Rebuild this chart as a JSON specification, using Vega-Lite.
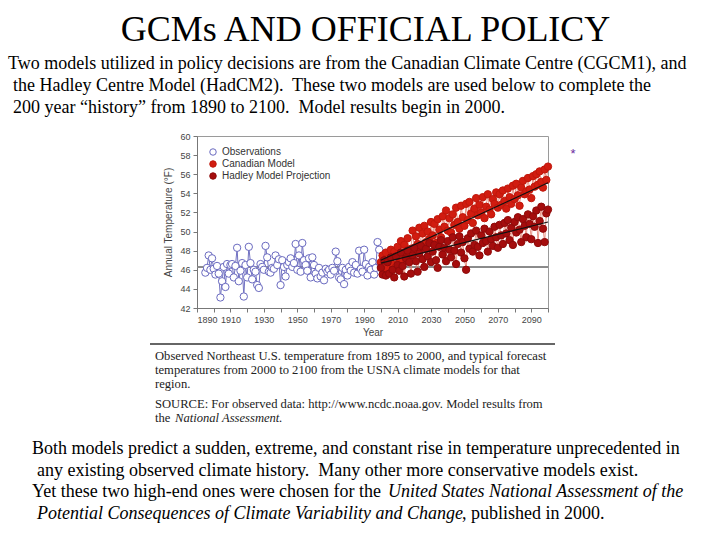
{
  "$schema": "https://vega.github.io/schema/vega-lite/v6.json",
  "background": "white",
  "padding": {"left": 8, "top": 12, "right": 0, "bottom": 0},
  "autosize": {"type": "pad"},
  "bounds": "flush",
  "spacing": 0,
  "title": {"text": "GCMs AND OFFICIAL POLICY", "font": "Liberation Serif", "fontSize": 36, "fontWeight": "normal", "color": "#000000", "anchor": "middle", "frame": "group", "offset": 3, "dx": -7},
  "config": {"view": {"stroke": null}},
  "resolve": {"legend": {"fill": "independent", "stroke": "independent"}},
  "datasets": {
    "temps": [
      {"series":"Observations","year":1895,"temp":45.7},{"series":"Observations","year":1896,"temp":46.2},{"series":"Observations","year":1897,"temp":47.5},{"series":"Observations","year":1898,"temp":46.0},{"series":"Observations","year":1899,"temp":47.2},
      {"series":"Observations","year":1900,"temp":46.1},{"series":"Observations","year":1901,"temp":45.5},{"series":"Observations","year":1902,"temp":46.4},{"series":"Observations","year":1903,"temp":45.6},{"series":"Observations","year":1904,"temp":43.1},
      {"series":"Observations","year":1905,"temp":44.8},{"series":"Observations","year":1906,"temp":46.3},{"series":"Observations","year":1907,"temp":44.2},{"series":"Observations","year":1908,"temp":46.6},{"series":"Observations","year":1909,"temp":45.6},
      {"series":"Observations","year":1910,"temp":46.5},{"series":"Observations","year":1911,"temp":46.6},{"series":"Observations","year":1912,"temp":45.2},{"series":"Observations","year":1913,"temp":46.4},{"series":"Observations","year":1914,"temp":48.3},
      {"series":"Observations","year":1915,"temp":44.8},{"series":"Observations","year":1916,"temp":45.9},{"series":"Observations","year":1917,"temp":46.7},{"series":"Observations","year":1918,"temp":43.2},{"series":"Observations","year":1919,"temp":46.5},
      {"series":"Observations","year":1920,"temp":45.2},{"series":"Observations","year":1921,"temp":48.4},{"series":"Observations","year":1922,"temp":46.7},{"series":"Observations","year":1923,"temp":45.0},{"series":"Observations","year":1924,"temp":46.0},
      {"series":"Observations","year":1925,"temp":45.8},{"series":"Observations","year":1926,"temp":44.4},{"series":"Observations","year":1927,"temp":44.1},{"series":"Observations","year":1928,"temp":46.6},{"series":"Observations","year":1929,"temp":46.3},
      {"series":"Observations","year":1930,"temp":46.0},{"series":"Observations","year":1931,"temp":48.5},{"series":"Observations","year":1932,"temp":47.3},{"series":"Observations","year":1933,"temp":45.8},{"series":"Observations","year":1934,"temp":45.7},
      {"series":"Observations","year":1935,"temp":46.2},{"series":"Observations","year":1936,"temp":46.1},{"series":"Observations","year":1937,"temp":47.5},{"series":"Observations","year":1938,"temp":46.5},{"series":"Observations","year":1939,"temp":47.1},
      {"series":"Observations","year":1940,"temp":44.4},{"series":"Observations","year":1941,"temp":47.0},{"series":"Observations","year":1942,"temp":46.3},{"series":"Observations","year":1943,"temp":45.3},{"series":"Observations","year":1944,"temp":46.5},
      {"series":"Observations","year":1945,"temp":46.8},{"series":"Observations","year":1946,"temp":47.2},{"series":"Observations","year":1947,"temp":46.3},{"series":"Observations","year":1948,"temp":46.7},{"series":"Observations","year":1949,"temp":48.7},
      {"series":"Observations","year":1950,"temp":46.0},{"series":"Observations","year":1951,"temp":47.5},{"series":"Observations","year":1952,"temp":45.8},{"series":"Observations","year":1953,"temp":48.8},{"series":"Observations","year":1954,"temp":47.0},
      {"series":"Observations","year":1955,"temp":46.5},{"series":"Observations","year":1956,"temp":45.9},{"series":"Observations","year":1957,"temp":47.2},{"series":"Observations","year":1958,"temp":45.2},{"series":"Observations","year":1959,"temp":47.3},
      {"series":"Observations","year":1960,"temp":46.5},{"series":"Observations","year":1961,"temp":45.6},{"series":"Observations","year":1962,"temp":45.1},{"series":"Observations","year":1963,"temp":46.2},{"series":"Observations","year":1964,"temp":45.3},
      {"series":"Observations","year":1965,"temp":45.7},{"series":"Observations","year":1966,"temp":44.9},{"series":"Observations","year":1967,"temp":46.1},{"series":"Observations","year":1968,"temp":45.8},{"series":"Observations","year":1969,"temp":46.0},
      {"series":"Observations","year":1970,"temp":45.5},{"series":"Observations","year":1971,"temp":46.2},{"series":"Observations","year":1972,"temp":45.9},{"series":"Observations","year":1973,"temp":47.9},{"series":"Observations","year":1974,"temp":46.9},
      {"series":"Observations","year":1975,"temp":45.2},{"series":"Observations","year":1976,"temp":45.0},{"series":"Observations","year":1977,"temp":46.2},{"series":"Observations","year":1978,"temp":44.5},{"series":"Observations","year":1979,"temp":46.0},
      {"series":"Observations","year":1980,"temp":45.4},{"series":"Observations","year":1981,"temp":46.3},{"series":"Observations","year":1982,"temp":45.9},{"series":"Observations","year":1983,"temp":46.8},{"series":"Observations","year":1984,"temp":45.7},
      {"series":"Observations","year":1985,"temp":46.5},{"series":"Observations","year":1986,"temp":45.6},{"series":"Observations","year":1987,"temp":48.0},{"series":"Observations","year":1988,"temp":46.1},{"series":"Observations","year":1989,"temp":45.8},
      {"series":"Observations","year":1990,"temp":48.1},{"series":"Observations","year":1991,"temp":46.6},{"series":"Observations","year":1992,"temp":45.4},{"series":"Observations","year":1993,"temp":46.3},{"series":"Observations","year":1994,"temp":46.0},
      {"series":"Observations","year":1995,"temp":46.8},{"series":"Observations","year":1996,"temp":45.5},{"series":"Observations","year":1997,"temp":46.2},{"series":"Observations","year":1998,"temp":48.9},{"series":"Observations","year":1999,"temp":48.1},
      {"series":"Observations","year":2000,"temp":46.4},
      {"series":"Canadian Model","year":2000,"temp":46.8},{"series":"Canadian Model","year":2001,"temp":47.5},{"series":"Canadian Model","year":2002,"temp":45.9},{"series":"Canadian Model","year":2003,"temp":47.8},{"series":"Canadian Model","year":2004,"temp":46.2},
      {"series":"Canadian Model","year":2005,"temp":47.0},{"series":"Canadian Model","year":2006,"temp":48.1},{"series":"Canadian Model","year":2007,"temp":46.6},{"series":"Canadian Model","year":2008,"temp":47.9},{"series":"Canadian Model","year":2009,"temp":46.3},
      {"series":"Canadian Model","year":2010,"temp":48.4},{"series":"Canadian Model","year":2011,"temp":47.2},{"series":"Canadian Model","year":2012,"temp":49.0},{"series":"Canadian Model","year":2013,"temp":46.9},{"series":"Canadian Model","year":2014,"temp":48.6},
      {"series":"Canadian Model","year":2015,"temp":47.5},{"series":"Canadian Model","year":2016,"temp":49.3},{"series":"Canadian Model","year":2017,"temp":47.8},{"series":"Canadian Model","year":2018,"temp":48.2},{"series":"Canadian Model","year":2019,"temp":50.1},
      {"series":"Canadian Model","year":2020,"temp":48.0},{"series":"Canadian Model","year":2021,"temp":49.5},{"series":"Canadian Model","year":2022,"temp":48.7},{"series":"Canadian Model","year":2023,"temp":50.4},{"series":"Canadian Model","year":2024,"temp":48.3},
      {"series":"Canadian Model","year":2025,"temp":49.8},{"series":"Canadian Model","year":2026,"temp":50.6},{"series":"Canadian Model","year":2027,"temp":48.9},{"series":"Canadian Model","year":2028,"temp":50.0},{"series":"Canadian Model","year":2029,"temp":49.2},
      {"series":"Canadian Model","year":2030,"temp":51.0},{"series":"Canadian Model","year":2031,"temp":49.6},{"series":"Canadian Model","year":2032,"temp":50.8},{"series":"Canadian Model","year":2033,"temp":48.8},{"series":"Canadian Model","year":2034,"temp":51.3},
      {"series":"Canadian Model","year":2035,"temp":50.2},{"series":"Canadian Model","year":2036,"temp":49.4},{"series":"Canadian Model","year":2037,"temp":51.6},{"series":"Canadian Model","year":2038,"temp":50.5},{"series":"Canadian Model","year":2039,"temp":52.2},
      {"series":"Canadian Model","year":2040,"temp":50.1},{"series":"Canadian Model","year":2041,"temp":51.4},{"series":"Canadian Model","year":2042,"temp":49.9},{"series":"Canadian Model","year":2043,"temp":51.8},{"series":"Canadian Model","year":2044,"temp":50.7},
      {"series":"Canadian Model","year":2045,"temp":52.5},{"series":"Canadian Model","year":2046,"temp":51.0},{"series":"Canadian Model","year":2047,"temp":50.3},{"series":"Canadian Model","year":2048,"temp":52.7},{"series":"Canadian Model","year":2049,"temp":51.5},
      {"series":"Canadian Model","year":2050,"temp":50.6},{"series":"Canadian Model","year":2051,"temp":52.9},{"series":"Canadian Model","year":2052,"temp":51.2},{"series":"Canadian Model","year":2053,"temp":53.1},{"series":"Canadian Model","year":2054,"temp":51.9},
      {"series":"Canadian Model","year":2055,"temp":50.9},{"series":"Canadian Model","year":2056,"temp":52.4},{"series":"Canadian Model","year":2057,"temp":53.5},{"series":"Canadian Model","year":2058,"temp":51.7},{"series":"Canadian Model","year":2059,"temp":52.8},
      {"series":"Canadian Model","year":2060,"temp":52.0},{"series":"Canadian Model","year":2061,"temp":53.6},{"series":"Canadian Model","year":2062,"temp":51.4},{"series":"Canadian Model","year":2063,"temp":52.6},{"series":"Canadian Model","year":2064,"temp":53.9},
      {"series":"Canadian Model","year":2065,"temp":52.3},{"series":"Canadian Model","year":2066,"temp":51.8},{"series":"Canadian Model","year":2067,"temp":53.4},{"series":"Canadian Model","year":2068,"temp":52.9},{"series":"Canadian Model","year":2069,"temp":54.1},
      {"series":"Canadian Model","year":2070,"temp":52.5},{"series":"Canadian Model","year":2071,"temp":53.9},{"series":"Canadian Model","year":2072,"temp":52.8},{"series":"Canadian Model","year":2073,"temp":54.3},{"series":"Canadian Model","year":2074,"temp":53.2},
      {"series":"Canadian Model","year":2075,"temp":52.4},{"series":"Canadian Model","year":2076,"temp":54.5},{"series":"Canadian Model","year":2077,"temp":53.6},{"series":"Canadian Model","year":2078,"temp":52.9},{"series":"Canadian Model","year":2079,"temp":54.8},
      {"series":"Canadian Model","year":2080,"temp":53.4},{"series":"Canadian Model","year":2081,"temp":55.0},{"series":"Canadian Model","year":2082,"temp":53.8},{"series":"Canadian Model","year":2083,"temp":52.7},{"series":"Canadian Model","year":2084,"temp":54.6},
      {"series":"Canadian Model","year":2085,"temp":55.3},{"series":"Canadian Model","year":2086,"temp":53.9},{"series":"Canadian Model","year":2087,"temp":54.2},{"series":"Canadian Model","year":2088,"temp":55.6},{"series":"Canadian Model","year":2089,"temp":54.4},
      {"series":"Canadian Model","year":2090,"temp":53.5},{"series":"Canadian Model","year":2091,"temp":55.8},{"series":"Canadian Model","year":2092,"temp":54.7},{"series":"Canadian Model","year":2093,"temp":56.0},{"series":"Canadian Model","year":2094,"temp":54.9},
      {"series":"Canadian Model","year":2095,"temp":56.3},{"series":"Canadian Model","year":2096,"temp":55.2},{"series":"Canadian Model","year":2097,"temp":54.6},{"series":"Canadian Model","year":2098,"temp":56.5},{"series":"Canadian Model","year":2099,"temp":55.4},
      {"series":"Canadian Model","year":2100,"temp":56.8},
      {"series":"Hadley Model Projection","year":2000,"temp":46.2},{"series":"Hadley Model Projection","year":2001,"temp":45.5},{"series":"Hadley Model Projection","year":2002,"temp":47.0},{"series":"Hadley Model Projection","year":2003,"temp":45.4},{"series":"Hadley Model Projection","year":2004,"temp":46.8},
      {"series":"Hadley Model Projection","year":2005,"temp":45.6},{"series":"Hadley Model Projection","year":2006,"temp":47.3},{"series":"Hadley Model Projection","year":2007,"temp":46.0},{"series":"Hadley Model Projection","year":2008,"temp":45.2},{"series":"Hadley Model Projection","year":2009,"temp":47.4},
      {"series":"Hadley Model Projection","year":2010,"temp":46.5},{"series":"Hadley Model Projection","year":2011,"temp":45.9},{"series":"Hadley Model Projection","year":2012,"temp":47.8},{"series":"Hadley Model Projection","year":2013,"temp":46.4},{"series":"Hadley Model Projection","year":2014,"temp":45.3},
      {"series":"Hadley Model Projection","year":2015,"temp":47.2},{"series":"Hadley Model Projection","year":2016,"temp":48.0},{"series":"Hadley Model Projection","year":2017,"temp":46.8},{"series":"Hadley Model Projection","year":2018,"temp":45.6},{"series":"Hadley Model Projection","year":2019,"temp":47.5},
      {"series":"Hadley Model Projection","year":2020,"temp":48.3},{"series":"Hadley Model Projection","year":2021,"temp":46.9},{"series":"Hadley Model Projection","year":2022,"temp":45.8},{"series":"Hadley Model Projection","year":2023,"temp":47.7},{"series":"Hadley Model Projection","year":2024,"temp":48.5},
      {"series":"Hadley Model Projection","year":2025,"temp":47.1},{"series":"Hadley Model Projection","year":2026,"temp":46.3},{"series":"Hadley Model Projection","year":2027,"temp":48.2},{"series":"Hadley Model Projection","year":2028,"temp":47.4},{"series":"Hadley Model Projection","year":2029,"temp":48.8},
      {"series":"Hadley Model Projection","year":2030,"temp":46.8},{"series":"Hadley Model Projection","year":2031,"temp":47.9},{"series":"Hadley Model Projection","year":2032,"temp":48.6},{"series":"Hadley Model Projection","year":2033,"temp":47.0},{"series":"Hadley Model Projection","year":2034,"temp":46.2},
      {"series":"Hadley Model Projection","year":2035,"temp":48.4},{"series":"Hadley Model Projection","year":2036,"temp":49.1},{"series":"Hadley Model Projection","year":2037,"temp":47.6},{"series":"Hadley Model Projection","year":2038,"temp":48.3},{"series":"Hadley Model Projection","year":2039,"temp":46.9},
      {"series":"Hadley Model Projection","year":2040,"temp":49.0},{"series":"Hadley Model Projection","year":2041,"temp":48.1},{"series":"Hadley Model Projection","year":2042,"temp":47.3},{"series":"Hadley Model Projection","year":2043,"temp":49.4},{"series":"Hadley Model Projection","year":2044,"temp":48.0},
      {"series":"Hadley Model Projection","year":2045,"temp":46.6},{"series":"Hadley Model Projection","year":2046,"temp":48.7},{"series":"Hadley Model Projection","year":2047,"temp":49.5},{"series":"Hadley Model Projection","year":2048,"temp":47.8},{"series":"Hadley Model Projection","year":2049,"temp":48.9},
      {"series":"Hadley Model Projection","year":2050,"temp":47.2},{"series":"Hadley Model Projection","year":2051,"temp":46.0},{"series":"Hadley Model Projection","year":2052,"temp":49.3},{"series":"Hadley Model Projection","year":2053,"temp":48.2},{"series":"Hadley Model Projection","year":2054,"temp":49.8},
      {"series":"Hadley Model Projection","year":2055,"temp":47.9},{"series":"Hadley Model Projection","year":2056,"temp":48.6},{"series":"Hadley Model Projection","year":2057,"temp":50.1},{"series":"Hadley Model Projection","year":2058,"temp":48.4},{"series":"Hadley Model Projection","year":2059,"temp":47.5},
      {"series":"Hadley Model Projection","year":2060,"temp":49.6},{"series":"Hadley Model Projection","year":2061,"temp":48.8},{"series":"Hadley Model Projection","year":2062,"temp":50.3},{"series":"Hadley Model Projection","year":2063,"temp":49.0},{"series":"Hadley Model Projection","year":2064,"temp":47.9},
      {"series":"Hadley Model Projection","year":2065,"temp":50.0},{"series":"Hadley Model Projection","year":2066,"temp":49.2},{"series":"Hadley Model Projection","year":2067,"temp":48.5},{"series":"Hadley Model Projection","year":2068,"temp":50.5},{"series":"Hadley Model Projection","year":2069,"temp":49.4},
      {"series":"Hadley Model Projection","year":2070,"temp":48.3},{"series":"Hadley Model Projection","year":2071,"temp":50.7},{"series":"Hadley Model Projection","year":2072,"temp":49.6},{"series":"Hadley Model Projection","year":2073,"temp":48.7},{"series":"Hadley Model Projection","year":2074,"temp":50.9},
      {"series":"Hadley Model Projection","year":2075,"temp":49.8},{"series":"Hadley Model Projection","year":2076,"temp":51.2},{"series":"Hadley Model Projection","year":2077,"temp":49.1},{"series":"Hadley Model Projection","year":2078,"temp":50.4},{"series":"Hadley Model Projection","year":2079,"temp":48.6},
      {"series":"Hadley Model Projection","year":2080,"temp":51.0},{"series":"Hadley Model Projection","year":2081,"temp":49.9},{"series":"Hadley Model Projection","year":2082,"temp":51.5},{"series":"Hadley Model Projection","year":2083,"temp":50.2},{"series":"Hadley Model Projection","year":2084,"temp":48.9},
      {"series":"Hadley Model Projection","year":2085,"temp":51.3},{"series":"Hadley Model Projection","year":2086,"temp":50.6},{"series":"Hadley Model Projection","year":2087,"temp":49.4},{"series":"Hadley Model Projection","year":2088,"temp":51.8},{"series":"Hadley Model Projection","year":2089,"temp":50.8},
      {"series":"Hadley Model Projection","year":2090,"temp":49.2},{"series":"Hadley Model Projection","year":2091,"temp":51.6},{"series":"Hadley Model Projection","year":2092,"temp":50.5},{"series":"Hadley Model Projection","year":2093,"temp":52.2},{"series":"Hadley Model Projection","year":2094,"temp":48.8},
      {"series":"Hadley Model Projection","year":2095,"temp":51.1},{"series":"Hadley Model Projection","year":2096,"temp":52.6},{"series":"Hadley Model Projection","year":2097,"temp":50.3},{"series":"Hadley Model Projection","year":2098,"temp":48.9},{"series":"Hadley Model Projection","year":2099,"temp":51.9},
      {"series":"Hadley Model Projection","year":2100,"temp":52.3}
    ],
    "trends": [
      {"model":"Canadian Model","year":2000,"temp":47.0},{"model":"Canadian Model","year":2100,"temp":55.1},
      {"model":"Hadley Model Projection","year":2000,"temp":46.7},{"model":"Hadley Model Projection","year":2100,"temp":51.0}
    ]
  },
  "vconcat": [
    {
      "width": 351,
      "height": 84,
      "encoding": {
        "y": {"field": "line", "type": "quantitative", "axis": null, "scale": {"domain": [0.45, 4.27], "reverse": true, "zero": false, "nice": false}},
        "text": {"field": "text"}
      },
      "layer": [
        {"data": {"values": [
          {"line": 1, "text": "Two models utilized in policy decisions are from the Canadian Climate Centre (CGCM1), and"}
        ]},
          "mark": {"type": "text", "align": "left", "baseline": "middle", "font": "Liberation Serif", "fontSize": 18, "color": "#000000", "x": -189}},
        {"data": {"values": [
          {"line": 2, "text": "the Hadley Centre Model (HadCM2).\u00a0 These two models are used below to complete the"},
          {"line": 3, "text": "200 year “history” from 1890 to 2100.\u00a0 Model results begin in 2000."}
        ]},
          "mark": {"type": "text", "align": "left", "baseline": "middle", "font": "Liberation Serif", "fontSize": 18, "color": "#000000", "x": -184}}
      ]
    },
    {
      "width": 351,
      "height": 172,
      "view": {"stroke": "#9a9a9a", "strokeWidth": 1},
      "data": {"name": "temps"},
      "encoding": {
        "x": {"field": "year", "type": "quantitative", "scale": {"domain": [1890, 2100], "nice": false, "zero": false},
          "axis": {"title": "Year", "values": [1890,1900,1910,1920,1930,1940,1950,1960,1970,1980,1990,2000,2010,2020,2030,2040,2050,2060,2070,2080,2090,2100],
            "labelExpr": "(datum.value - 1890) % 20 === 0 && datum.value < 2100 ? datum.label : ''", "format": "d", "grid": false,
            "tickSize": 4, "tickColor": "#777", "domainColor": "#777", "labelFont": "Liberation Sans", "labelFontSize": 9, "labelColor": "#444",
            "titleFont": "Liberation Sans", "titleFontSize": 10, "titleFontWeight": "normal", "titleColor": "#444", "labelPadding": 3, "titlePadding": 3, "labelOverlap": false}},
        "y": {"field": "temp", "type": "quantitative", "scale": {"domain": [42, 60], "nice": false, "zero": false},
          "axis": {"title": "Annual Temperature (°F)", "values": [42,44,46,48,50,52,54,56,58,60], "grid": false,
            "tickSize": 4, "tickColor": "#777", "domainColor": "#777", "labelFont": "Liberation Sans", "labelFontSize": 9, "labelColor": "#444",
            "titleFont": "Liberation Sans", "titleFontSize": 10, "titleFontWeight": "normal", "titleColor": "#444", "labelPadding": 3, "titlePadding": 6}}
      },
      "layer": [
        {"mark": {"type": "rule", "color": "#8a8a8a", "strokeWidth": 1}, "encoding": {"x": null, "y": {"datum": 46.25}}},
        {"transform": [{"filter": "datum.series === 'Observations'"}], "mark": {"type": "line", "color": "#7272c2", "strokeWidth": 1}},
        {"transform": [{"filter": "datum.series !== 'Observations'"}], "mark": {"type": "line", "color": "#e27a68", "strokeWidth": 0.8}, "encoding": {"detail": {"field": "series"}}},
        {"mark": {"type": "point", "shape": "circle", "size": 54, "strokeWidth": 1, "opacity": 1, "filled": false},
          "encoding": {
            "fill": {"field": "series", "type": "nominal", "scale": {"domain": ["Observations", "Canadian Model", "Hadley Model Projection"], "range": ["#ffffff", "#d11c10", "#a50d0d"]},
              "legend": {"title": null, "orient": "top-left", "offset": 11, "labelFont": "Liberation Sans", "labelFontSize": 10, "labelColor": "#333", "symbolSize": 42, "rowPadding": 0, "symbolStrokeWidth": 1}},
            "stroke": {"field": "series", "type": "nominal", "scale": {"domain": ["Observations", "Canadian Model", "Hadley Model Projection"], "range": ["#6a6ac0", "#c0170b", "#8e0a0a"]},
              "legend": {"title": null, "orient": "top-left", "offset": 11, "labelFont": "Liberation Sans", "labelFontSize": 10, "labelColor": "#333", "symbolSize": 42, "rowPadding": 0, "symbolStrokeWidth": 1}}
          }},
        {"data": {"name": "trends"}, "mark": {"type": "line", "color": "#111111", "strokeWidth": 1.2}, "encoding": {"detail": {"field": "model"}}},
        {"data": {"values": [{"note": "*"}]}, "mark": {"type": "text", "font": "Liberation Sans", "fontSize": 13, "color": "#6a2ca0", "align": "center", "baseline": "middle", "x": 376, "y": 18}, "encoding": {"x": null, "y": null, "text": {"field": "note"}}}
      ]
    },
    {
      "width": 351,
      "height": 123,
      "encoding": {
        "y": {"field": "line", "type": "quantitative", "axis": null, "scale": {"domain": [-2.43, 6.36], "reverse": true, "zero": false, "nice": false}}
      },
      "layer": [
        {"data": {"values": [{}]}, "mark": {"type": "rule", "color": "#333333", "strokeWidth": 1.5}, "encoding": {"x": {"value": -47}, "x2": {"value": 358}, "y": {"value": 36}}},
        {"data": {"values": [
          {"line": 1, "text": "Observed Northeast U.S. temperature from 1895 to 2000, and typical forecast"},
          {"line": 2, "text": "temperatures from 2000 to 2100 from the USNA climate models for that"},
          {"line": 3, "text": "region."}
        ]},
          "mark": {"type": "text", "align": "left", "baseline": "middle", "font": "Liberation Serif", "fontSize": 12.6, "color": "#222222", "x": -42},
          "encoding": {"text": {"field": "text"}}},
        {"data": {"values": [
          {"line": 4, "text": "SOURCE: For observed data: http://www.ncdc.noaa.gov. Model results from"},
          {"line": 5, "text": "the"}
        ]},
          "mark": {"type": "text", "align": "left", "baseline": "middle", "font": "Liberation Serif", "fontSize": 12.6, "color": "#222222", "x": -42, "dy": 6},
          "encoding": {"text": {"field": "text"}}},
        {"data": {"values": [{"line": 5, "text": "National Assessment."}]},
          "mark": {"type": "text", "align": "left", "baseline": "middle", "font": "Liberation Serif", "fontSize": 12.6, "fontStyle": "italic", "color": "#222222", "x": -22, "dy": 6},
          "encoding": {"text": {"field": "text"}}}
      ]
    },
    {
      "width": 351,
      "height": 110,
      "encoding": {
        "y": {"field": "line", "type": "quantitative", "axis": null, "scale": {"domain": [0.17, 5.24], "reverse": true, "zero": false, "nice": false}}
      },
      "layer": [
        {"data": {"values": [
          {"line": 1, "text": "Both models predict a sudden, extreme, and constant rise in temperature unprecedented in"},
          {"line": 3, "text": "Yet these two high-end ones were chosen for the"}
        ]},
          "mark": {"type": "text", "align": "left", "baseline": "middle", "font": "Liberation Serif", "fontSize": 18, "color": "#000000", "x": -165},
          "encoding": {"text": {"field": "text"}}},
        {"data": {"values": [
          {"line": 2, "text": "any existing observed climate history.\u00a0 Many other more conservative models exist."}
        ]},
          "mark": {"type": "text", "align": "left", "baseline": "middle", "font": "Liberation Serif", "fontSize": 18, "color": "#000000", "x": -160},
          "encoding": {"text": {"field": "text"}}},
        {"data": {"values": [{"line": 3, "text": "United States National Assessment of the"}]},
          "mark": {"type": "text", "align": "left", "baseline": "middle", "font": "Liberation Serif", "fontSize": 18, "fontStyle": "italic", "color": "#000000", "x": 191},
          "encoding": {"text": {"field": "text"}}},
        {"data": {"values": [{"line": 4, "text": "Potential Consequences of Climate Variability and Change"}]},
          "mark": {"type": "text", "align": "left", "baseline": "middle", "font": "Liberation Serif", "fontSize": 18, "fontStyle": "italic", "color": "#000000", "x": -160},
          "encoding": {"text": {"field": "text"}}},
        {"data": {"values": [{"line": 4, "text": ", published in 2000."}]},
          "mark": {"type": "text", "align": "left", "baseline": "middle", "font": "Liberation Serif", "fontSize": 18, "color": "#000000", "x": 265},
          "encoding": {"text": {"field": "text"}}}
      ]
    }
  ]
}
